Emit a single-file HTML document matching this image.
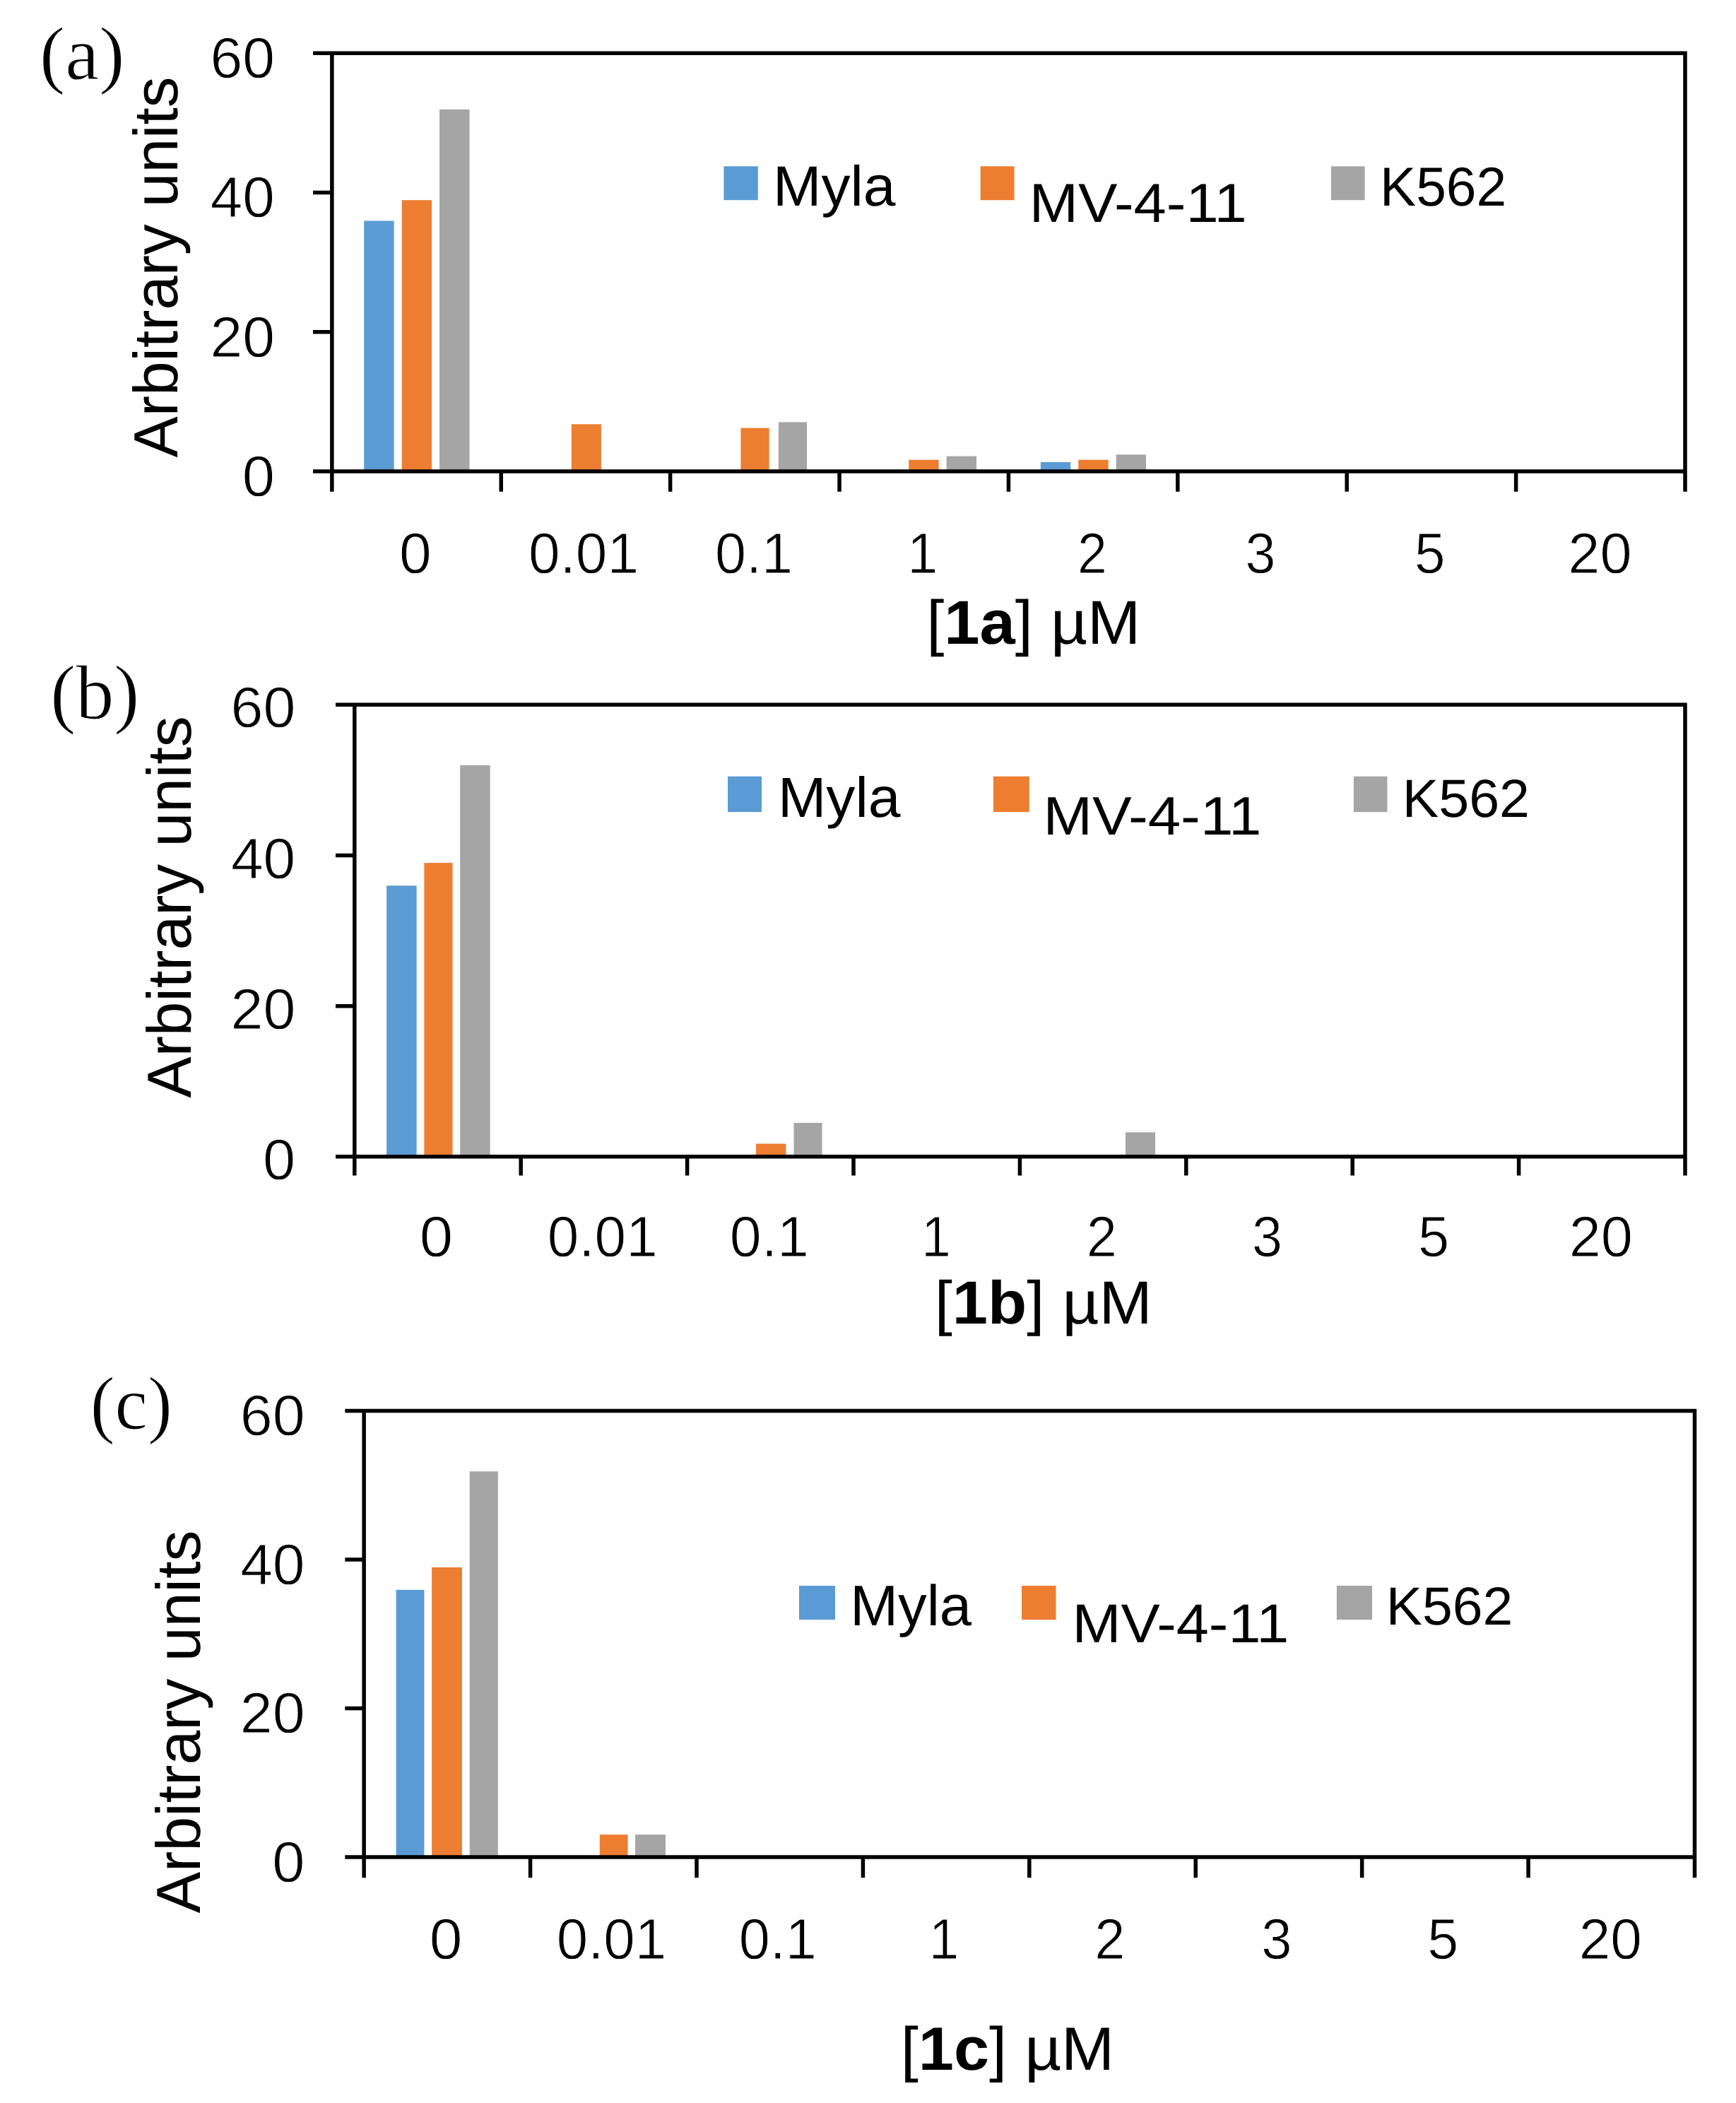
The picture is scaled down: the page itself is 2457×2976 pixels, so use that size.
<!DOCTYPE html>
<html lang="en"><head><meta charset="utf-8"><title>Figure</title>
<style>html,body{margin:0;padding:0;background:#fff}svg{display:block}text{fill:#000;stroke:#fff}</style></head>
<body><svg width="2457" height="2976" viewBox="0 0 2457 2976" text-rendering="geometricPrecision">
<rect width="2457" height="2976" fill="#fff"/>
<rect x="515.2" y="312.5" width="42.4" height="354.4" fill="#5B9BD5"/>
<rect x="568.7" y="283.2" width="42.3" height="383.7" fill="#ED7D31"/>
<rect x="622" y="154.8" width="42.5" height="512.1" fill="#A5A5A5"/>
<rect x="808.8" y="600.3" width="42.1" height="66.6" fill="#ED7D31"/>
<rect x="1048.4" y="605.7" width="40.2" height="61.2" fill="#ED7D31"/>
<rect x="1101.8" y="597.4" width="40.2" height="69.5" fill="#A5A5A5"/>
<rect x="1286.2" y="650.7" width="42.4" height="16.2" fill="#ED7D31"/>
<rect x="1339.6" y="645.6" width="42.4" height="21.3" fill="#A5A5A5"/>
<rect x="1472.8" y="653.9" width="42.4" height="13" fill="#5B9BD5"/>
<rect x="1526.3" y="650.7" width="42.4" height="16.2" fill="#ED7D31"/>
<rect x="1579.7" y="643.3" width="42.3" height="23.6" fill="#A5A5A5"/>
<path d="M443 75.3H2385V695.8M469.85 75.3V695.8M443 666.9H2385M443 272.5H469.85M443 469.7H469.85M709.24 666.9V695.8M948.64 666.9V695.8M1188.03 666.9V695.8M1427.43 666.9V695.8M1666.82 666.9V695.8M1906.21 666.9V695.8M2145.61 666.9V695.8" fill="none" stroke="#000" stroke-width="5.5" stroke-linejoin="miter"/>
<text transform="translate(56.08 111.57) scale(1.0842 1.0716)" font-family="'Liberation Serif', serif" font-size="100" stroke-width="1.0">(a)</text>
<text transform="translate(297.48 110.29) scale(0.8218 0.8143)" font-family="'Liberation Sans', sans-serif" font-size="100" stroke-width="1.2">60</text>
<text transform="translate(297.84 307.49) scale(0.8184 0.8143)" font-family="'Liberation Sans', sans-serif" font-size="100" stroke-width="1.2">40</text>
<text transform="translate(297.48 504.69) scale(0.8218 0.8143)" font-family="'Liberation Sans', sans-serif" font-size="100" stroke-width="1.2">20</text>
<text transform="translate(342.66 701.89) scale(0.8301 0.8143)" font-family="'Liberation Sans', sans-serif" font-size="100" stroke-width="1.2">0</text>
<text transform="translate(565 810.89) scale(0.8215 0.8143)" font-family="'Liberation Sans', sans-serif" font-size="100" stroke-width="1.2">0</text>
<text transform="translate(747.89 810.89) scale(0.8022 0.8143)" font-family="'Liberation Sans', sans-serif" font-size="100" stroke-width="1.2">0.01</text>
<text transform="translate(1011.94 810.89) scale(0.7907 0.8143)" font-family="'Liberation Sans', sans-serif" font-size="100" stroke-width="1.2">0.1</text>
<text transform="translate(1284.31 810.89) scale(0.7738 0.8143)" font-family="'Liberation Sans', sans-serif" font-size="100" stroke-width="1.2">1</text>
<text transform="translate(1524.97 810.89) scale(0.7506 0.8143)" font-family="'Liberation Sans', sans-serif" font-size="100" stroke-width="1.2">2</text>
<text transform="translate(1762.53 810.89) scale(0.7717 0.8143)" font-family="'Liberation Sans', sans-serif" font-size="100" stroke-width="1.2">3</text>
<text transform="translate(2001.89 810.89) scale(0.7826 0.8143)" font-family="'Liberation Sans', sans-serif" font-size="100" stroke-width="1.2">5</text>
<text transform="translate(2219.34 810.89) scale(0.8109 0.8143)" font-family="'Liberation Sans', sans-serif" font-size="100" stroke-width="1.2">20</text>
<text transform="translate(1311.18 911) scale(0.9033 0.8759)" font-family="'Liberation Sans', sans-serif" font-size="100" stroke-width="0">[<tspan font-weight="bold">1a</tspan>] µM</text>
<text transform="translate(250.6 647.44) rotate(-90) scale(0.8735 0.8828)" font-family="'Liberation Sans', sans-serif" font-size="100" stroke-width="0">Arbitrary units</text>
<rect x="1024.4" y="235.3" width="48.4" height="47.9" fill="#5B9BD5"/>
<rect x="1387.6" y="235.3" width="47.9" height="47.9" fill="#ED7D31"/>
<rect x="1884" y="235.3" width="47.6" height="47.9" fill="#A5A5A5"/>
<text transform="translate(1093.93 290.6) scale(0.8217 0.8014)" font-family="'Liberation Sans', sans-serif" font-size="100" stroke-width="0">Myla</text>
<text transform="translate(1456.85 314.4) scale(0.8310 0.7797)" font-family="'Liberation Sans', sans-serif" font-size="100" stroke-width="0">MV-4-11</text>
<text transform="translate(1953.06 290.9) scale(0.7669 0.7786)" font-family="'Liberation Sans', sans-serif" font-size="100" stroke-width="0">K562</text>
<rect x="547.1" y="1253.3" width="42.5" height="383.55" fill="#5B9BD5"/>
<rect x="600.4" y="1221.1" width="40.1" height="415.75" fill="#ED7D31"/>
<rect x="651.2" y="1082.9" width="42.5" height="553.95" fill="#A5A5A5"/>
<rect x="1070" y="1618.5" width="42.4" height="18.35" fill="#ED7D31"/>
<rect x="1123.5" y="1589" width="40" height="47.85" fill="#A5A5A5"/>
<rect x="1593" y="1602.4" width="42" height="34.45" fill="#A5A5A5"/>
<path d="M475 997.3H2385V1663.5M501.8 997.3V1663.5M475 1636.85H2385M475 1210.5H501.8M475 1423.7H501.8M737.2 1636.85V1663.5M972.6 1636.85V1663.5M1208 1636.85V1663.5M1443.4 1636.85V1663.5M1678.8 1636.85V1663.5M1914.2 1636.85V1663.5M2149.6 1636.85V1663.5" fill="none" stroke="#000" stroke-width="5.5" stroke-linejoin="miter"/>
<text transform="translate(71.3 1017.42) scale(1.0808 1.0938)" font-family="'Liberation Serif', serif" font-size="100" stroke-width="1.0">(b)</text>
<text transform="translate(326.56 1029.34) scale(0.8248 0.8143)" font-family="'Liberation Sans', sans-serif" font-size="100" stroke-width="1.2">60</text>
<text transform="translate(326.94 1242.54) scale(0.8213 0.8143)" font-family="'Liberation Sans', sans-serif" font-size="100" stroke-width="1.2">40</text>
<text transform="translate(326.56 1455.74) scale(0.8248 0.8143)" font-family="'Liberation Sans', sans-serif" font-size="100" stroke-width="1.2">20</text>
<text transform="translate(372.06 1668.89) scale(0.8301 0.8143)" font-family="'Liberation Sans', sans-serif" font-size="100" stroke-width="1.2">0</text>
<text transform="translate(593.87 1777.99) scale(0.8516 0.8143)" font-family="'Liberation Sans', sans-serif" font-size="100" stroke-width="1.2">0</text>
<text transform="translate(774.8 1777.99) scale(0.8011 0.8143)" font-family="'Liberation Sans', sans-serif" font-size="100" stroke-width="1.2">0.01</text>
<text transform="translate(1032.87 1777.99) scale(0.8062 0.8143)" font-family="'Liberation Sans', sans-serif" font-size="100" stroke-width="1.2">0.1</text>
<text transform="translate(1304.24 1777.99) scale(0.7452 0.8143)" font-family="'Liberation Sans', sans-serif" font-size="100" stroke-width="1.2">1</text>
<text transform="translate(1537.74 1777.99) scale(0.7753 0.8143)" font-family="'Liberation Sans', sans-serif" font-size="100" stroke-width="1.2">2</text>
<text transform="translate(1772.03 1777.99) scale(0.7717 0.8143)" font-family="'Liberation Sans', sans-serif" font-size="100" stroke-width="1.2">3</text>
<text transform="translate(2007.03 1777.99) scale(0.7935 0.8143)" font-family="'Liberation Sans', sans-serif" font-size="100" stroke-width="1.2">5</text>
<text transform="translate(2220.64 1777.99) scale(0.8109 0.8143)" font-family="'Liberation Sans', sans-serif" font-size="100" stroke-width="1.2">20</text>
<text transform="translate(1322.68 1873.4) scale(0.9032 0.8607)" font-family="'Liberation Sans', sans-serif" font-size="100" stroke-width="0">[<tspan font-weight="bold">1b</tspan>] µM</text>
<text transform="translate(269.6 1553.74) rotate(-90) scale(0.8759 0.8814)" font-family="'Liberation Sans', sans-serif" font-size="100" stroke-width="0">Arbitrary units</text>
<rect x="1030" y="1098.7" width="48" height="50.4" fill="#5B9BD5"/>
<rect x="1406" y="1098.7" width="50.7" height="50.4" fill="#ED7D31"/>
<rect x="1915.9" y="1098.7" width="47.5" height="50.4" fill="#A5A5A5"/>
<text transform="translate(1100.93 1156) scale(0.8212 0.8000)" font-family="'Liberation Sans', sans-serif" font-size="100" stroke-width="0">Myla</text>
<text transform="translate(1476.43 1180.5) scale(0.8341 0.7667)" font-family="'Liberation Sans', sans-serif" font-size="100" stroke-width="0">MV-4-11</text>
<text transform="translate(1984.83 1155.5) scale(0.7710 0.7600)" font-family="'Liberation Sans', sans-serif" font-size="100" stroke-width="0">K562</text>
<rect x="560.6" y="2249.8" width="39.8" height="378.3" fill="#5B9BD5"/>
<rect x="611.1" y="2218" width="42.8" height="410.1" fill="#ED7D31"/>
<rect x="664.7" y="2082.2" width="40.1" height="545.9" fill="#A5A5A5"/>
<rect x="848.8" y="2596.2" width="39.7" height="31.9" fill="#ED7D31"/>
<rect x="899" y="2596.2" width="43" height="31.9" fill="#A5A5A5"/>
<path d="M488.3 1996.4H2398.5V2657.2M515.15 1996.4V2657.2M488.3 2628.1H2398.5M488.3 2207H515.15M488.3 2417.5H515.15M750.57 2628.1V2657.2M985.99 2628.1V2657.2M1221.41 2628.1V2657.2M1456.82 2628.1V2657.2M1692.24 2628.1V2657.2M1927.66 2628.1V2657.2M2163.08 2628.1V2657.2" fill="none" stroke="#000" stroke-width="5.5" stroke-linejoin="miter"/>
<text transform="translate(127.78 2022.27) scale(1.0446 1.0716)" font-family="'Liberation Serif', serif" font-size="100" stroke-width="1.0">(c)</text>
<text transform="translate(339.76 2031.24) scale(0.8248 0.8143)" font-family="'Liberation Sans', sans-serif" font-size="100" stroke-width="1.2">60</text>
<text transform="translate(340.14 2241.84) scale(0.8213 0.8143)" font-family="'Liberation Sans', sans-serif" font-size="100" stroke-width="1.2">40</text>
<text transform="translate(339.76 2452.34) scale(0.8248 0.8143)" font-family="'Liberation Sans', sans-serif" font-size="100" stroke-width="1.2">20</text>
<text transform="translate(385.26 2662.94) scale(0.8301 0.8143)" font-family="'Liberation Sans', sans-serif" font-size="100" stroke-width="1.2">0</text>
<text transform="translate(607.73 2771.89) scale(0.8387 0.8143)" font-family="'Liberation Sans', sans-serif" font-size="100" stroke-width="1.2">0</text>
<text transform="translate(787.7 2771.89) scale(0.7989 0.8143)" font-family="'Liberation Sans', sans-serif" font-size="100" stroke-width="1.2">0.01</text>
<text transform="translate(1045.73 2771.89) scale(0.7922 0.8143)" font-family="'Liberation Sans', sans-serif" font-size="100" stroke-width="1.2">0.1</text>
<text transform="translate(1314.67 2771.89) scale(0.7667 0.8143)" font-family="'Liberation Sans', sans-serif" font-size="100" stroke-width="1.2">1</text>
<text transform="translate(1549.24 2771.89) scale(0.7753 0.8143)" font-family="'Liberation Sans', sans-serif" font-size="100" stroke-width="1.2">2</text>
<text transform="translate(1785.31 2771.89) scale(0.7761 0.8143)" font-family="'Liberation Sans', sans-serif" font-size="100" stroke-width="1.2">3</text>
<text transform="translate(2020.14 2771.89) scale(0.7913 0.8143)" font-family="'Liberation Sans', sans-serif" font-size="100" stroke-width="1.2">5</text>
<text transform="translate(2234.69 2771.89) scale(0.8020 0.8143)" font-family="'Liberation Sans', sans-serif" font-size="100" stroke-width="1.2">20</text>
<text transform="translate(1274.69 2928.5) scale(0.9017 0.8634)" font-family="'Liberation Sans', sans-serif" font-size="100" stroke-width="0">[<tspan font-weight="bold">1c</tspan>] µM</text>
<text transform="translate(283.4 2707.54) rotate(-90) scale(0.8787 0.8814)" font-family="'Liberation Sans', sans-serif" font-size="100" stroke-width="0">Arbitrary units</text>
<rect x="1130.9" y="2244" width="51.1" height="48" fill="#5B9BD5"/>
<rect x="1446" y="2244" width="48.5" height="48" fill="#ED7D31"/>
<rect x="1891.9" y="2244" width="50.1" height="48" fill="#A5A5A5"/>
<text transform="translate(1203.29 2299.8) scale(0.8138 0.8110)" font-family="'Liberation Sans', sans-serif" font-size="100" stroke-width="0">Myla</text>
<text transform="translate(1517.47 2324.2) scale(0.8285 0.7739)" font-family="'Liberation Sans', sans-serif" font-size="100" stroke-width="0">MV-4-11</text>
<text transform="translate(1961.75 2299.4) scale(0.7687 0.7600)" font-family="'Liberation Sans', sans-serif" font-size="100" stroke-width="0">K562</text>
</svg></body></html>
